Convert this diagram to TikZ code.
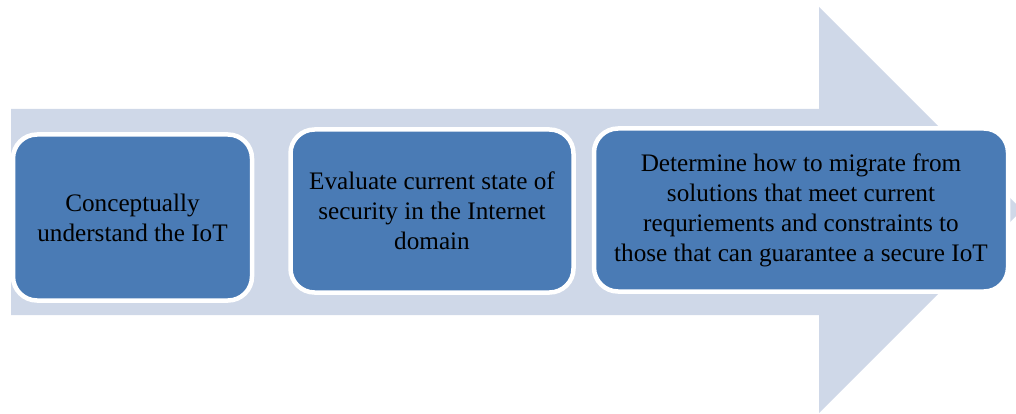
\documentclass[tikz,border=0pt]{standalone}
\usepackage{fontspec}
\setmainfont{Liberation Serif}
\definecolor{arrowfill}{RGB}{207,216,232}
\definecolor{stepfill}{RGB}{74,123,181}
\begin{document}
\begin{tikzpicture}[x=1pt,y=-1pt,
  stepbox/.style={rectangle, rounded corners=24pt, fill=stepfill, draw=white,
    line width=4.5pt, align=center, inner sep=0pt,
    font=\fontsize{25.2pt}{30pt}\selectfont, text=black}]
\useasboundingbox (0,0) rectangle (1016,414);
\clip (0,0) rectangle (1016,414);
% background block arrow
\fill[arrowfill] (11,109) -- (819,109) -- (819,7) -- (1022,210) -- (819,413)
  -- (819,315) -- (11,315) -- cycle;
% the three steps
\node[stepbox, minimum width=239pt, minimum height=166pt] (s1) at (132.5,217.5)
  {Conceptually\\understand the IoT};
\node[stepbox, minimum width=283pt, minimum height=163pt] (s2) at (432,211)
  {Evaluate current state of\\security in the Internet\\domain};
\node[stepbox, minimum width=414pt, minimum height=163pt] (s3) at (801,210)
  {Determine how to migrate from\\solutions that meet current\\requriements and constraints to\\those that can guarantee a secure IoT};
\end{tikzpicture}
\end{document}
